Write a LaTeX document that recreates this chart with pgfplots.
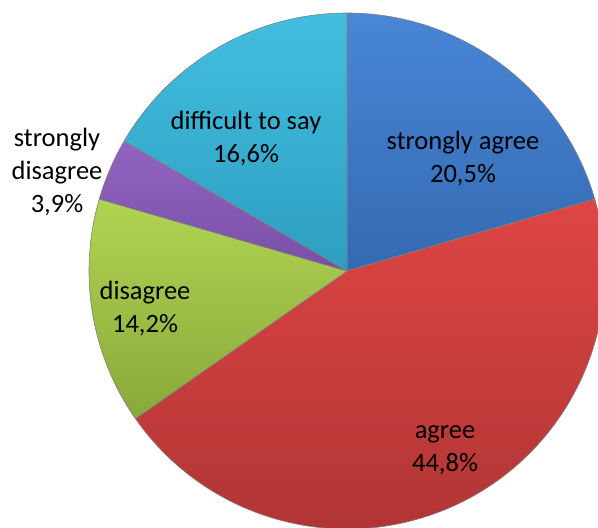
\documentclass[border=0pt]{standalone}
\usepackage{pgfplots}
\pgfplotsset{compat=1.18}
\usepackage{pgfplotstable}
\usepackage{fontspec}
\setmainfont{Carlito}

\definecolor{saT}{HTML}{4886D6}\definecolor{saB}{HTML}{346AB2}
\definecolor{agT}{HTML}{DE4644}\definecolor{agB}{HTML}{AE3434}
\definecolor{diT}{HTML}{B2D452}\definecolor{diB}{HTML}{88A83A}
\definecolor{sdT}{HTML}{9264C2}\definecolor{sdB}{HTML}{7850A6}
\definecolor{dsT}{HTML}{43BEE0}\definecolor{dsB}{HTML}{2D9EC0}

% shares in percent, clockwise from 12 o'clock
\pgfplotstableread{
key value
sa  20.5
ag  44.8
di  14.2
sd  3.9
ds  16.6
}\piedata

\def\cx{347}\def\cy{257}\def\R{258pt}
\gdef\curangle{90}
\newcommand{\pieslice}[1]{% row index
  \pgfplotstablegetelem{#1}{value}\of\piedata
  \let\val\pgfplotsretval
  \pgfplotstablegetelem{#1}{key}\of\piedata
  \let\k\pgfplotsretval
  \pgfmathsetmacro\ea{\curangle-3.6*\val}
  \edef\temp{\noexpand\path[top color=\k T,bottom color=\k B,draw=black!50,line width=0.6pt,line join=round]
    (axis cs:\cx,\cy) -- ++(\curangle:\R) arc[start angle=\curangle,end angle=\ea,radius=\R] -- cycle;}%
  \temp
  \xdef\curangle{\ea}%
}

\begin{document}
\begin{tikzpicture}
\begin{axis}[
  width=598pt, height=528pt, scale only axis,
  xmin=0, xmax=598, ymin=0, ymax=528,
  hide axis, clip=true,
]
\pieslice{0}
\pieslice{1}
\pieslice{2}
\pieslice{3}
\pieslice{4}
\begin{scope}[every node/.style={font=\fontsize{26.5}{33}\selectfont, align=center, text=black}]
\node at (axis cs:463,369.5) {strongly agree\\20,5\%};
\node at (axis cs:445,78) {agree\\44,8\%};
\node at (axis cs:145,220) {disagree\\14,2\%};
\node at (axis cs:57,356) {strongly\\disagree\\3,9\%};
\node at (axis cs:246,390) {difficult to say\\16,6\%};
\end{scope}
\end{axis}
\pgfresetboundingbox
\useasboundingbox (current axis.south west) rectangle (current axis.north east);
\end{tikzpicture}
\end{document}
